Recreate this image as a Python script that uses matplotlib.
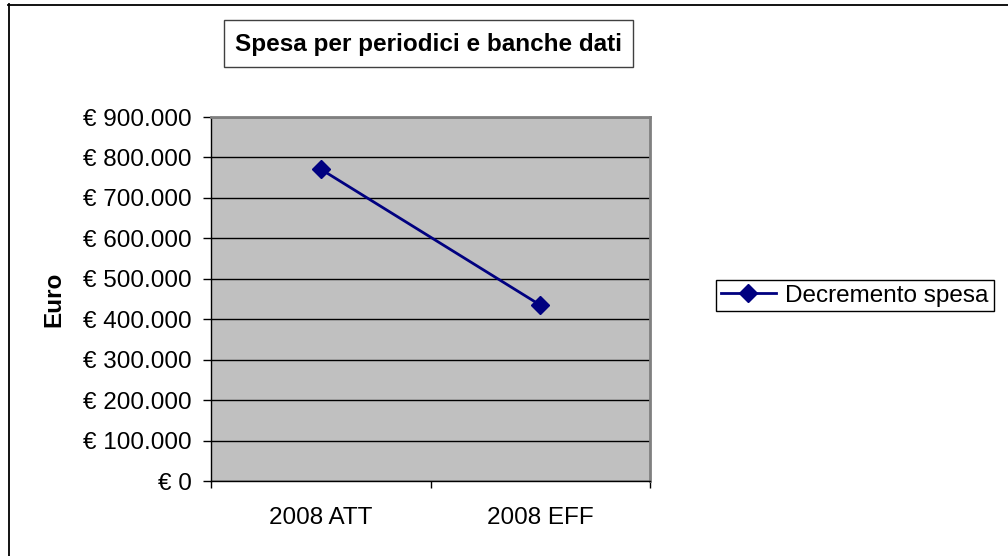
import matplotlib
matplotlib.use("Agg")
import matplotlib.pyplot as plt
from matplotlib.patches import Rectangle
from matplotlib.lines import Line2D
from matplotlib.ticker import FuncFormatter, MultipleLocator

# -----------------------------
# DATA
# -----------------------------
categories = ["2008 ATT", "2008 EFF"]
spesa = [771000, 435000]
series_name = "Decremento spesa"
title = "Spesa per periodici e banche dati"
y_label = "Euro"

plt.rcParams["font.family"] = ["Liberation Sans", "DejaVu Sans"]
FS = 17.5

fig = plt.figure(figsize=(10.08, 5.56), dpi=100)
ax = fig.add_axes([211 / 1008, 1 - 481 / 556, (650 - 211) / 1008, (481 - 117) / 556])
ax.set_facecolor("#C0C0C0")

x = list(range(len(categories)))
ax.plot(x, spesa, color="#000080", linewidth=2, marker="D", markersize=9,
        label=series_name, zorder=3)

# -----------------------------
# AXES
# -----------------------------
ax.set_xlim(-0.5, len(categories) - 0.5)
ax.set_ylim(0, 900000)
ax.yaxis.set_major_locator(MultipleLocator(100000))
ax.yaxis.set_major_formatter(FuncFormatter(lambda v, p: "€ " + f"{v:,.0f}".replace(",", ".")))
ax.grid(axis="y", color="black", linewidth=1)
ax.set_axisbelow(True)

# tick marks between categories, labels centred on them
ax.set_xticks([i - 0.5 for i in range(len(categories) + 1)])
ax.set_xticklabels([])
ax.set_xticks(x, minor=True)
ax.set_xticklabels(categories, minor=True, fontsize=FS)
ax.tick_params(axis="x", which="major", length=5, width=1, direction="out")
ax.tick_params(axis="x", which="minor", length=0, pad=19)
ax.tick_params(axis="y", length=5.8, width=1, direction="out", pad=8, labelsize=FS)

for side in ["left", "bottom"]:
    ax.spines[side].set_color("black")
    ax.spines[side].set_linewidth(1)
for side in ["top", "right"]:
    ax.spines[side].set_color("#808080")
    ax.spines[side].set_linewidth(2)

fig.text(54 / 1008, 1 - 299 / 556, y_label, rotation=90, fontsize=FS,
         fontweight="bold", ha="center", va="center")

# -----------------------------
# TITLE BOX
# -----------------------------
fig.patches.append(Rectangle((224 / 1008, 1 - 67 / 556), (633 - 224) / 1008, 47 / 556,
                             transform=fig.transFigure, facecolor="white",
                             edgecolor="#404040", linewidth=1))
fig.text(428.5 / 1008, 1 - 44 / 556, title, fontsize=FS, fontweight="bold",
         ha="center", va="center")

# -----------------------------
# LEGEND
# -----------------------------
leg = ax.legend(loc="center left", bbox_to_anchor=(716 / 1008, 1 - 295.5 / 556),
                bbox_transform=fig.transFigure, fontsize=FS, frameon=True,
                fancybox=False, edgecolor="black", framealpha=1,
                borderpad=0.2, handlelength=2.25, handletextpad=0.4, borderaxespad=0)
leg.get_frame().set_linewidth(1)

# outer border (top and left only)
fig.lines.append(Line2D([8 / 1008, 1], [1 - 4.5 / 556] * 2, transform=fig.transFigure,
                        color="black", linewidth=1.3))
fig.lines.append(Line2D([8.5 / 1008] * 2, [0, 1 - 4 / 556], transform=fig.transFigure,
                        color="black", linewidth=1.3))

fig.savefig("out.png", dpi=100)
